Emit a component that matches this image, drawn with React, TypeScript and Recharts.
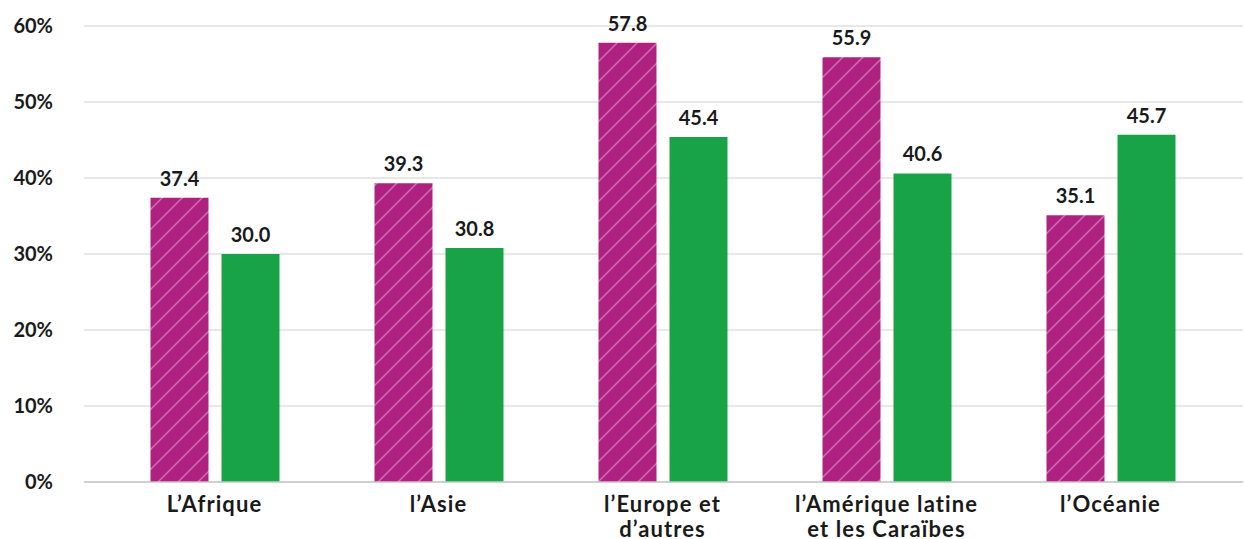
import React from "react";
import { BarChart, Bar, XAxis, YAxis, CartesianGrid, LabelList } from "recharts";

const categories = [
  "L’Afrique",
  "l’Asie",
  "l’Europe et\nd’autres",
  "l’Amérique latine\net les Caraïbes",
  "l’Océanie",
];
const seriesA = [37.4, 39.3, 57.8, 55.9, 35.1];
const seriesB = [30.0, 30.8, 45.4, 40.6, 45.7];
const yTicks = [0, 10, 20, 30, 40, 50, 60];

const data = categories.map((c, i) => ({ name: c, a: seriesA[i], b: seriesB[i] }));

const FONT = "Lato, 'Noto Sans', sans-serif";
const TEXT = "#1a1a1a";

const XTick = (props: any) => {
  const { x, y, payload } = props;
  const lines = String(payload.value).split("\n");
  return (
    <text
      x={x}
      y={y + 30}
      textAnchor="middle"
      fontFamily={FONT}
      fontWeight={700}
      fontSize={22}
      letterSpacing={1.1}
      fill={TEXT}
    >
      {lines.map((l, i) => (
        <tspan key={i} x={x} dy={i === 0 ? 0 : 24.5}>
          {l}
        </tspan>
      ))}
    </text>
  );
};

export default function App() {
  return (
    <div style={{ position: "absolute", left: 0, top: 0, background: "#fff" }}>
      <BarChart
        width={1244}
        height={539}
        data={data}
        margin={{ top: 26, right: 1, bottom: 0, left: 0 }}
        barGap={13}
        barCategoryGap={47.5}
      >
        <defs>
          <pattern id="hatch" patternUnits="userSpaceOnUse" width="20" height="20">
            <rect x="0" y="0" width="20" height="20" fill="#AF2180" />
            <path
              d="M-5,5 L5,-5 M0,20 L20,0 M15,25 L25,15"
              stroke="#D16CB3"
              strokeWidth={1.5}
            />
          </pattern>
        </defs>
        <CartesianGrid vertical={false} stroke="#d0d0d0" strokeWidth={1.2} />
        <XAxis
          dataKey="name"
          interval={0}
          tickLine={false}
          tickSize={0}
          tickMargin={0}
          axisLine={{ stroke: "#c8c8c8", strokeWidth: 1.5 }}
          height={57}
          padding={{ left: 18.5, right: 20.5 }}
          tick={<XTick />}
        />
        <YAxis
          width={84}
          domain={[0, 60]}
          ticks={yTicks}
          interval={0}
          axisLine={false}
          tickLine={false}
          tickSize={0}
          tickMargin={31}
          tickFormatter={(v: number) => `${v}%`}
          tick={{ fontFamily: FONT, fontWeight: 700, fontSize: 20, fill: TEXT }}
        />
        <Bar dataKey="a" fill="url(#hatch)" barSize={58} isAnimationActive={false}>
          <LabelList
            dataKey="a"
            position="top"
            offset={12}
            formatter={(v: number) => v.toFixed(1)}
            style={{ fontFamily: FONT, fontWeight: 700, fontSize: 20, fill: TEXT }}
          />
        </Bar>
        <Bar dataKey="b" fill="#19A349" barSize={58} isAnimationActive={false}>
          <LabelList
            dataKey="b"
            position="top"
            offset={12}
            formatter={(v: number) => v.toFixed(1)}
            style={{ fontFamily: FONT, fontWeight: 700, fontSize: 20, fill: TEXT }}
          />
        </Bar>
      </BarChart>
    </div>
  );
}
